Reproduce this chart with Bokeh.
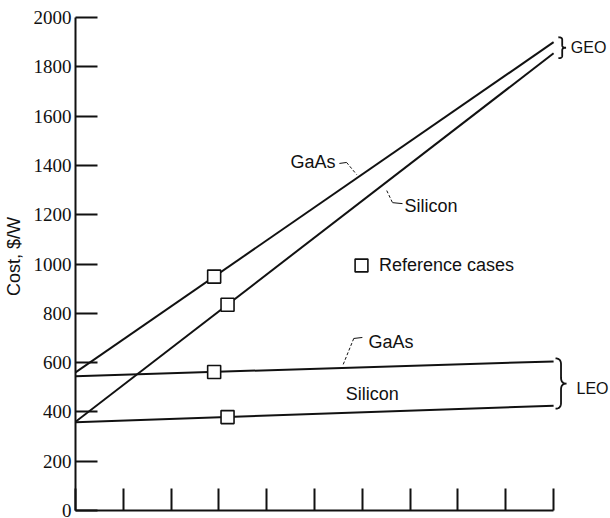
import numpy as np
from bokeh.plotting import figure
from bokeh.models import Range1d, FixedTicker, Label, Legend, LegendItem
from bokeh.embed import file_html
from bokeh.resources import INLINE

# ---- data ----
x_ends = [0, 10]
geo_gaas = [560, 1900]
geo_si = [360, 1855]
leo_gaas = [545, 605]
leo_si = [358, 425]
ref_x = [2.9, 3.18, 2.9, 3.18]
ref_y = [949, 835, 562, 379]
y_ticks = [0, 200, 400, 600, 800, 1000, 1200, 1400, 1600, 1800, 2000]
x_ticks = [0, 1, 2, 3, 4, 5, 6, 7, 8, 9, 10]

INK = "#111111"
NARROW = "Liberation Sans Narrow"
SANS = "Liberation Sans"

p = figure(width=610, height=518, output_backend="svg", toolbar_location=None,
           x_range=Range1d(0, 11.19), y_range=Range1d(0, 2061),
           min_border_left=75, min_border_right=0, min_border_top=2, min_border_bottom=8)
p.grid.visible = False
p.outline_line_color = None
p.background_fill_color = "white"
p.border_fill_color = "white"

# y axis
ya = p.yaxis[0]
ya.ticker = FixedTicker(ticks=y_ticks)
ya.bounds = (0, 2000)
ya.major_tick_in = 22
ya.major_tick_out = 0
ya.minor_tick_in = 0
ya.minor_tick_out = 0
ya.axis_line_width = 2
ya.axis_line_color = INK
ya.major_tick_line_width = 2
ya.major_tick_line_color = INK
ya.major_label_text_font = NARROW
ya.major_label_text_font_size = "19px"
ya.major_label_text_color = INK
ya.major_label_standoff = 4
ya.axis_label = "Cost, $/W"
ya.axis_label_text_font = SANS
ya.axis_label_text_font_style = "normal"
ya.axis_label_text_font_size = "18px"
ya.axis_label_text_color = INK
ya.axis_label_standoff = 7

# x axis (ticks, no labels)
xa = p.xaxis[0]
xa.ticker = FixedTicker(ticks=x_ticks)
xa.bounds = (0, 10)
xa.major_tick_in = 22
xa.major_tick_out = 0
xa.minor_tick_in = 0
xa.minor_tick_out = 0
xa.axis_line_width = 2
xa.axis_line_color = INK
xa.major_tick_line_width = 2
xa.major_tick_line_color = INK
xa.major_label_overrides = {t: "" for t in x_ticks}
xa.major_label_standoff = 0

# lines
for ys in (geo_gaas, geo_si, leo_gaas, leo_si):
    p.line(x_ends, ys, line_color=INK, line_width=2)

# reference cases
sq = p.scatter(ref_x, ref_y, marker="square", size=13, fill_color="white",
               line_color=INK, line_width=1.6)

legend = Legend(items=[LegendItem(label="Reference cases", renderers=[sq])],
                location=(270, 229), glyph_width=32, glyph_height=32,
                label_standoff=2, padding=0, margin=0, spacing=0,
                border_line_color=None, background_fill_alpha=0,
                label_text_font=SANS, label_text_font_size="18px",
                label_text_color=INK, label_text_baseline="middle")
p.add_layout(legend)

def add_label(x, y, text, align="left", font=SANS, size="18px"):
    p.add_layout(Label(x=x, y=y, text=text, text_align=align, text_baseline="middle",
                       text_font=font, text_font_size=size, text_color=INK))

add_label(5.44, 1412, "GaAs", align="right")
add_label(6.88, 1237, "Silicon")
add_label(6.13, 682, "GaAs")
add_label(5.65, 471, "Silicon")
add_label(10.48, 495, "LEO", size="16px")
add_label(10.36, 1878, "GEO", size="16px")

# leaders
p.line([5.52, 5.67], [1408, 1412], line_color=INK, line_width=1)
p.line([5.67, 5.88], [1412, 1363], line_color=INK, line_width=1, line_dash="3 2")
p.line([6.51, 6.63], [1298, 1249], line_color=INK, line_width=1, line_dash="3 2")
p.line([6.63, 6.84], [1249, 1245], line_color=INK, line_width=1)
p.line([6.0, 5.82], [702, 698], line_color=INK, line_width=1)
p.line([5.82, 5.59], [698, 588], line_color=INK, line_width=1, line_dash="3 2")

# braces
def brace(x0, xt, yb, yt, r):
    a = (xt - x0) / 2.0
    xm = x0 + a
    ym = (yb + yt) / 2.0
    t = np.linspace(0, 1, 12)
    def q(p0, p1, p2):
        return ((1 - t) ** 2 * p0[0] + 2 * (1 - t) * t * p1[0] + t ** 2 * p2[0],
                (1 - t) ** 2 * p0[1] + 2 * (1 - t) * t * p1[1] + t ** 2 * p2[1])
    segs = [q((x0, yt), (xm, yt), (xm, yt - r)),
            q((xm, ym + r), (xm, ym), (xt, ym)),
            q((xt, ym), (xm, ym), (xm, ym - r)),
            q((xm, yb + r), (xm, yb), (x0, yb))]
    xs = np.concatenate([s[0] for s in segs])
    ys = np.concatenate([s[1] for s in segs])
    p.line(xs, ys, line_color=INK, line_width=1.8)

brace(10.04, 10.27, leo_si[1] - 12, leo_gaas[1] + 12, 24)
brace(10.10, 10.26, geo_si[1] - 20, geo_gaas[1] + 20, 10)

open("out.html", "w").write(file_html(p, INLINE))
